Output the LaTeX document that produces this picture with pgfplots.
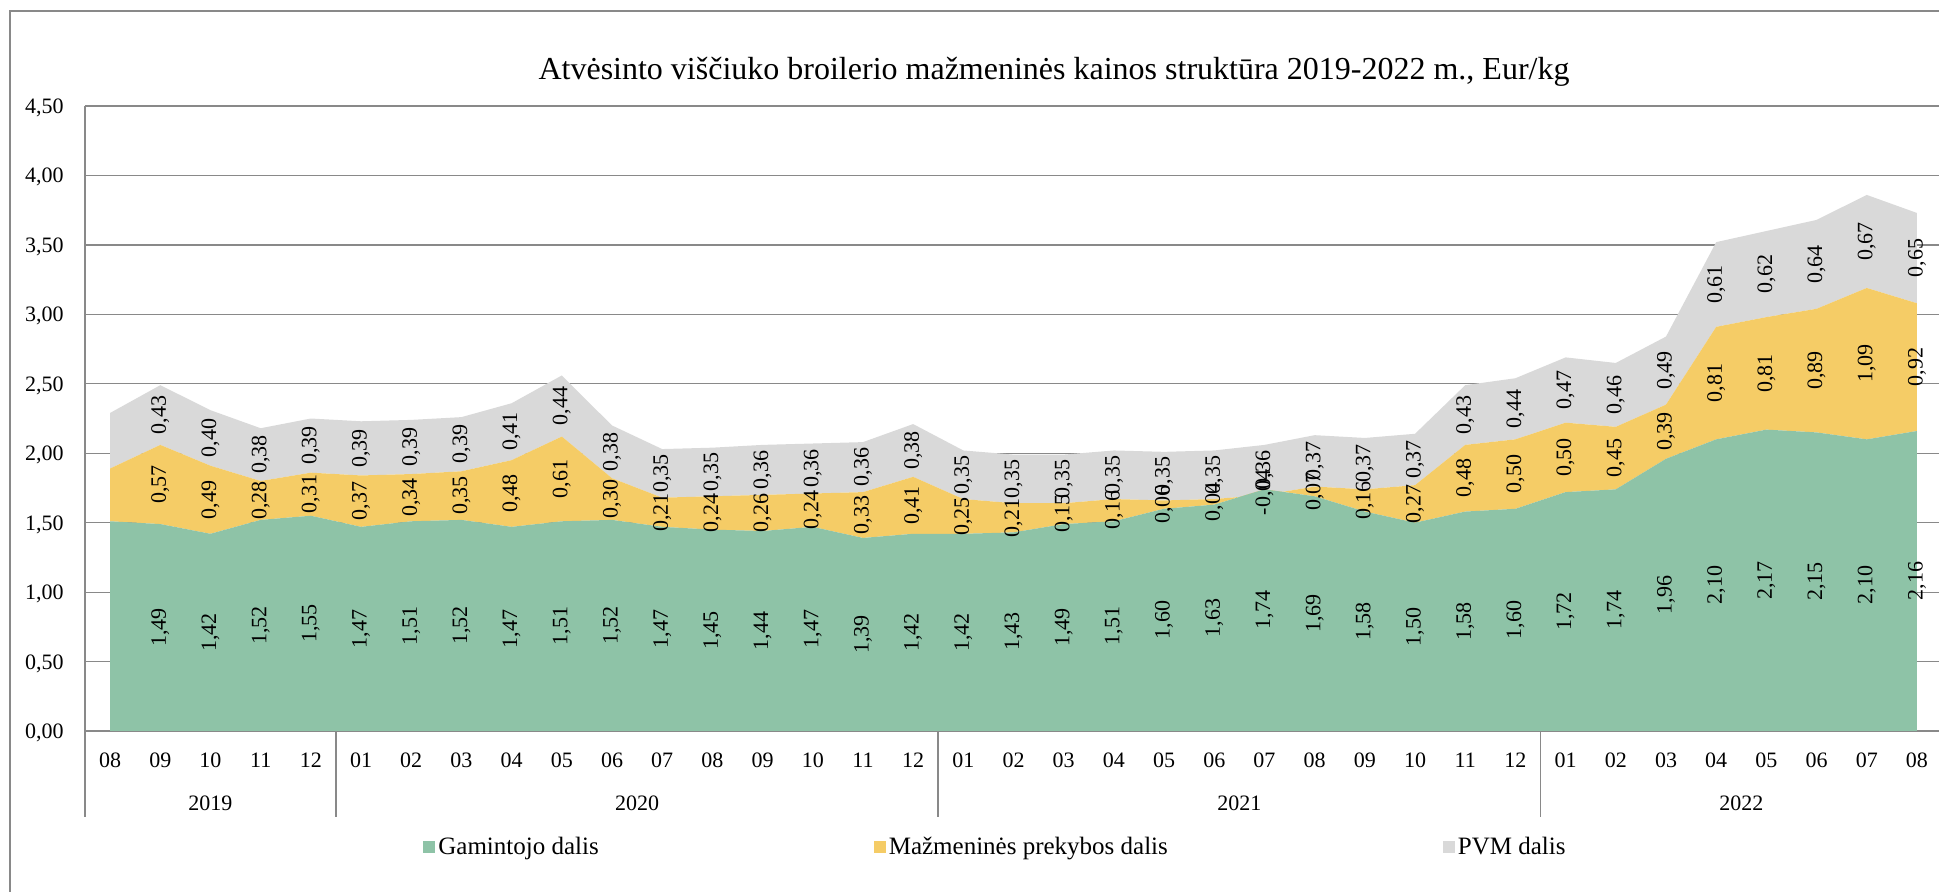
\documentclass[border=0pt]{standalone}
\usepackage{pgfplots}
\pgfplotsset{compat=1.18}
\usepackage{pgfplotstable}
\usepackage{fontspec}
\setmainfont{Liberation Serif}

\definecolor{gam}{RGB}{142,195,167}
\definecolor{maz}{RGB}{245,204,102}
\definecolor{pvm}{RGB}{217,217,217}
\definecolor{axgray}{RGB}{137,137,137}

% x = month index (0 = 2019-08), g = producer, m = retail, p = VAT; gl/ml/pl = shown labels
\pgfplotstableread{
x g m p gl ml pl
0 1.51 0.38 0.40 {} {} {}
1 1.49 0.57 0.43 1,49 0,57 0,43
2 1.42 0.49 0.40 1,42 0,49 0,40
3 1.52 0.28 0.38 1,52 0,28 0,38
4 1.55 0.31 0.39 1,55 0,31 0,39
5 1.47 0.37 0.39 1,47 0,37 0,39
6 1.51 0.34 0.39 1,51 0,34 0,39
7 1.52 0.35 0.39 1,52 0,35 0,39
8 1.47 0.48 0.41 1,47 0,48 0,41
9 1.51 0.61 0.44 1,51 0,61 0,44
10 1.52 0.30 0.38 1,52 0,30 0,38
11 1.47 0.21 0.35 1,47 0,21 0,35
12 1.45 0.24 0.35 1,45 0,24 0,35
13 1.44 0.26 0.36 1,44 0,26 0,36
14 1.47 0.24 0.36 1,47 0,24 0,36
15 1.39 0.33 0.36 1,39 0,33 0,36
16 1.42 0.41 0.38 1,42 0,41 0,38
17 1.42 0.25 0.35 1,42 0,25 0,35
18 1.43 0.21 0.35 1,43 0,21 0,35
19 1.49 0.15 0.35 1,49 0,15 0,35
20 1.51 0.16 0.35 1,51 0,16 0,35
21 1.60 0.06 0.35 1,60 0,06 0,35
22 1.63 0.04 0.35 1,63 0,04 0,35
23 1.74 -0.04 0.36 1,74 -0,04 0,36
24 1.69 0.07 0.37 1,69 0,07 0,37
25 1.58 0.16 0.37 1,58 0,16 0,37
26 1.50 0.27 0.37 1,50 0,27 0,37
27 1.58 0.48 0.43 1,58 0,48 0,43
28 1.60 0.50 0.44 1,60 0,50 0,44
29 1.72 0.50 0.47 1,72 0,50 0,47
30 1.74 0.45 0.46 1,74 0,45 0,46
31 1.96 0.39 0.49 1,96 0,39 0,49
32 2.10 0.81 0.61 2,10 0,81 0,61
33 2.17 0.81 0.62 2,17 0,81 0,62
34 2.15 0.89 0.64 2,15 0,89 0,64
35 2.10 1.09 0.67 2,10 1,09 0,67
36 2.16 0.92 0.65 2,16 0,92 0,65
}\data

\pgfplotsset{
  lbl/.style={
    visualization depends on={\thisrow{#1} \as \vv},
    point meta=explicit symbolic,
    nodes near coords,
    every node near coord/.append style={anchor=center, inner sep=0pt,
      yshift={-0.5*\vv*69.44pt}, rotate=90, text=black},
  },
}

\begin{document}
\begin{tikzpicture}[font=\fontsize{11}{13}\selectfont]
\useasboundingbox (-42.5pt,-80.5pt) rectangle (927pt,365.5pt);
\begin{axis}[
  at={(0,0)}, anchor=south west,
  x=25.095pt, y=69.44pt,
  xmin=-0.5, xmax=36.5, ymin=0, ymax=4.5,
  clip=false,
  stack plots=y,
  axis x line*=bottom, axis y line*=left,
  axis line style={axgray, line width=0.9pt, -},
  ymajorgrids, grid style={axgray, line width=0.6pt},
  ytick={0,0.5,1,1.5,2,2.5,3,3.5,4,4.5},
  ytick style={draw=none}, xtick style={draw=none},
  yticklabel style={anchor=base east, inner sep=0pt, xshift=-10.5pt, yshift=-3.75pt,
    /pgf/number format/fixed, /pgf/number format/fixed zerofill,
    /pgf/number format/precision=2, /pgf/number format/use comma,
    /pgf/number format/assume math mode=true},
  xtick={0,...,36},
  xticklabels={08,09,10,11,12,01,02,03,04,05,06,07,08,09,10,11,12,01,02,03,04,05,06,07,08,09,10,11,12,01,02,03,04,05,06,07,08},
  xticklabel style={anchor=base, inner sep=0pt, yshift=-18.25pt},
  legend columns=3,
  legend style={draw=none, fill=none, inner sep=0pt, at={(axis description cs:0.182,-0.1856)}, anchor=west,
    font=\fontsize{12.5}{15}\selectfont,
    /tikz/every even column/.append style={column sep=136pt},
    nodes={inner sep=1.5pt}},
  legend image code/.code={\fill[#1] (0pt,-3pt) rectangle (6pt,3pt);},
]
\addplot[fill=gam, draw=none, lbl=g, forget plot] table[x=x, y=g, meta=gl] {\data} \closedcycle;
\addplot[fill=maz, draw=none, lbl=m, forget plot] table[x=x, y=m, meta=ml] {\data} \closedcycle;
\addplot[fill=pvm, draw=none, lbl=p, forget plot] table[x=x, y=p, meta=pl] {\data} \closedcycle;

\addlegendimage{fill=gam, draw=none}
\addlegendentry{Gamintojo dalis}
\addlegendimage{fill=maz, draw=none}
\addlegendentry{Mažmeninės prekybos dalis}
\addlegendimage{fill=pvm, draw=none}
\addlegendentry{PVM dalis}

\draw[axgray, line width=0.9pt] (axis cs:-0.5,0) -- ([yshift=-43pt]axis cs:-0.5,0);
\draw[axgray, line width=0.9pt] (axis cs:4.5,0) -- ([yshift=-43pt]axis cs:4.5,0);
\draw[axgray, line width=0.9pt] (axis cs:16.5,0) -- ([yshift=-43pt]axis cs:16.5,0);
\draw[axgray, line width=0.9pt] (axis cs:28.5,0) -- ([yshift=-43pt]axis cs:28.5,0);

\node[anchor=base, inner sep=0pt, yshift=-39.75pt] at (axis cs:2,0) {2019};
\node[anchor=base, inner sep=0pt, yshift=-39.75pt] at (axis cs:10.5,0) {2020};
\node[anchor=base, inner sep=0pt, yshift=-39.75pt] at (axis cs:22.5,0) {2021};
\node[anchor=base, inner sep=0pt, yshift=-39.75pt] at (axis cs:32.5,0) {2022};

\node[anchor=base, inner sep=0pt, font=\fontsize{16}{19}\selectfont] at (rel axis cs:0.5218,1.0432)
  {Atvėsinto viščiuko broilerio mažmeninės kainos struktūra 2019-2022 m., Eur/kg};
\end{axis}
\draw[axgray, line width=0.8pt] (-37.5pt,-90pt) -- (-37.5pt,360pt) -- (940pt,360pt);
\end{tikzpicture}
\end{document}
